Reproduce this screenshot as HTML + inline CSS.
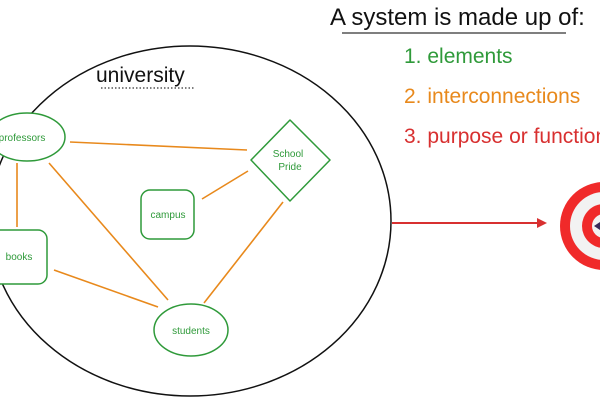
<!DOCTYPE html>
<html><head><meta charset="utf-8"><style>
html,body{margin:0;padding:0;background:#fff;width:600px;height:400px;overflow:hidden}
</style></head><body>
<svg width="600" height="400" viewBox="0 0 600 400" xmlns="http://www.w3.org/2000/svg" font-family="Liberation Sans, sans-serif">
<ellipse cx="190" cy="221" rx="201" ry="175" fill="none" stroke="#111" stroke-width="1.5"/>
<text x="96" y="82" font-size="21" fill="#111">university</text>
<line x1="101" y1="88" x2="194" y2="88" stroke="#333" stroke-width="1.2" stroke-dasharray="1.5,2"/>
<g stroke="#e8891c" stroke-width="1.6" fill="none">
<line x1="70" y1="142" x2="247" y2="150"/>
<line x1="17" y1="163" x2="17" y2="227"/>
<line x1="49" y1="163" x2="168" y2="300"/>
<line x1="202" y1="199" x2="248" y2="171"/>
<line x1="54" y1="270" x2="158" y2="307"/>
<line x1="283" y1="202" x2="204" y2="303"/>
</g>
<g stroke="#2f9a3a" stroke-width="1.5" fill="#fff">
<ellipse cx="27" cy="137" rx="38" ry="24"/>
<rect x="-8" y="230" width="55" height="54" rx="9"/>
<rect x="141" y="190" width="53" height="49" rx="9"/>
<path d="M290 120 L330 160 L290 201 L251 160 Z" stroke-linejoin="round"/>
<ellipse cx="191" cy="330" rx="37" ry="26"/>
</g>
<g fill="#2f9a3a" font-size="10" text-anchor="middle">
<text x="22" y="141">professors</text>
<text x="19" y="260">books</text>
<text x="168" y="218">campus</text>
<text x="288" y="157">School</text>
<text x="290" y="170">Pride</text>
<text x="191" y="334">students</text>
</g>
<text x="330" y="25" font-size="24" fill="#111">A system is made up of:</text>
<line x1="342" y1="33" x2="566" y2="33" stroke="#555" stroke-width="1.5"/>
<text x="404" y="63" font-size="21" fill="#2f9a3a">1. elements</text>
<text x="404" y="103" font-size="21" fill="#e8891c">2. interconnections</text>
<text x="404" y="143" font-size="21" fill="#d83030">3. purpose or function</text>
<line x1="392" y1="223" x2="540" y2="223" stroke="#d83030" stroke-width="2"/>
<path d="M537 218 L547 223 L537 228 Z" fill="#d83030"/>
<circle cx="604" cy="226" r="44" fill="#f02a2a"/>
<circle cx="604" cy="226" r="34" fill="#f2f2f2"/>
<circle cx="604" cy="226" r="22" fill="#f02a2a"/>
<circle cx="604" cy="226" r="12" fill="#f2f2f2"/>
<path d="M594 226 L600 222 L600 230 Z" fill="#3a2a5a"/>
</svg>
</body></html>
